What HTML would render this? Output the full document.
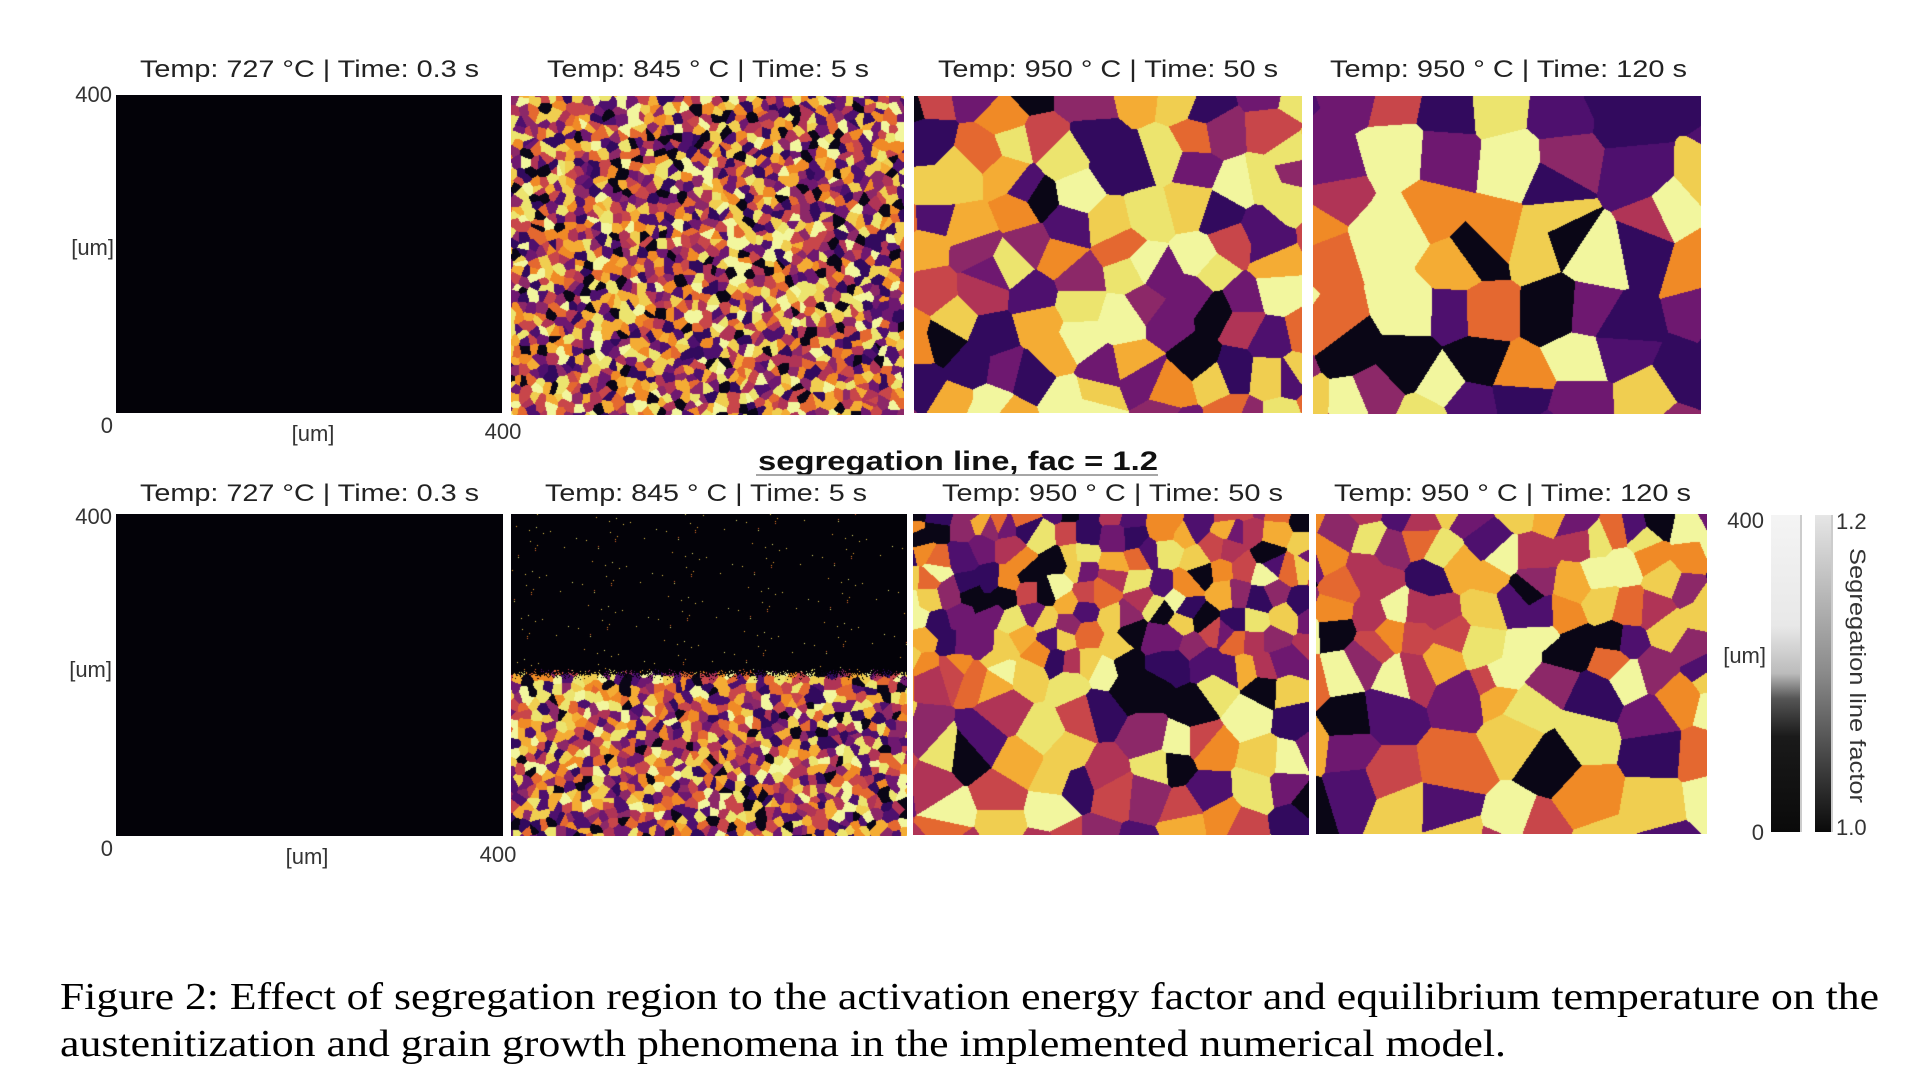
<!DOCTYPE html>
<html><head><meta charset="utf-8"><style>
html,body{margin:0;padding:0;background:#fff;width:1907px;height:1080px;overflow:hidden}
#wrap{position:relative;width:1907px;height:1080px}
canvas{position:absolute;display:block}
svg{position:absolute;left:0;top:0}
</style></head><body><div id="wrap">
<canvas id="c1" style="left:116px;top:95px" width="386" height="318"></canvas>
<canvas id="c2" style="left:511px;top:96px" width="393" height="319"></canvas>
<canvas id="c3" style="left:914px;top:96px" width="388" height="317"></canvas>
<canvas id="c4" style="left:1313px;top:96px" width="388" height="318"></canvas>
<canvas id="d1" style="left:116px;top:514px" width="387" height="322"></canvas>
<canvas id="d2" style="left:511px;top:514px" width="396" height="322"></canvas>
<canvas id="d3" style="left:913px;top:514px" width="396" height="321"></canvas>
<canvas id="d4" style="left:1316px;top:514px" width="391" height="320"></canvas>
<svg width="1907" height="1080" viewBox="0 0 1907 1080">
<defs>
<linearGradient id="g1" x1="0" y1="0" x2="0" y2="1">
<stop offset="0" stop-color="#f4f4f4"/><stop offset="0.35" stop-color="#e8e8e8"/><stop offset="0.5" stop-color="#bbbbbb"/><stop offset="0.58" stop-color="#555"/><stop offset="0.7" stop-color="#1a1a1a"/><stop offset="1" stop-color="#0a0a0a"/></linearGradient>
<linearGradient id="g2" x1="0" y1="0" x2="0" y2="1">
<stop offset="0" stop-color="#e6e6e6"/><stop offset="0.5" stop-color="#8a8a8a"/><stop offset="1" stop-color="#0a0a0a"/></linearGradient>
</defs>
<g font-family="Liberation Sans, sans-serif" font-size="24" fill="#222">
<text x="140" y="77" textLength="339" lengthAdjust="spacingAndGlyphs">Temp: 727 °C | Time: 0.3 s</text>
<text x="547" y="77" textLength="322" lengthAdjust="spacingAndGlyphs">Temp: 845 ° C | Time: 5 s</text>
<text x="938" y="77" textLength="340" lengthAdjust="spacingAndGlyphs">Temp: 950 ° C | Time: 50 s</text>
<text x="1330" y="77" textLength="357" lengthAdjust="spacingAndGlyphs">Temp: 950 ° C | Time: 120 s</text>
<text x="140" y="501" textLength="339" lengthAdjust="spacingAndGlyphs">Temp: 727 °C | Time: 0.3 s</text>
<text x="545" y="501" textLength="322" lengthAdjust="spacingAndGlyphs">Temp: 845 ° C | Time: 5 s</text>
<text x="942" y="501" textLength="341" lengthAdjust="spacingAndGlyphs">Temp: 950 ° C | Time: 50 s</text>
<text x="1334" y="501" textLength="357" lengthAdjust="spacingAndGlyphs">Temp: 950 ° C | Time: 120 s</text>
<g font-size="22" fill="#333">
<text x="112" y="102" text-anchor="end">400</text>
<text x="114" y="255" text-anchor="end">[um]</text>
<text x="113" y="433" text-anchor="end">0</text>
<text x="313" y="441" text-anchor="middle">[um]</text>
<text x="503" y="439" text-anchor="middle">400</text>
<text x="112" y="524" text-anchor="end">400</text>
<text x="112" y="677" text-anchor="end">[um]</text>
<text x="113" y="856" text-anchor="end">0</text>
<text x="307" y="864" text-anchor="middle">[um]</text>
<text x="498" y="862" text-anchor="middle">400</text>
<text x="1764" y="528" text-anchor="end">400</text>
<text x="1766" y="663" text-anchor="end">[um]</text>
<text x="1764" y="840" text-anchor="end">0</text>
<text x="1836" y="529">1.2</text>
<text x="1836" y="835">1.0</text>
<text transform="translate(1850,548) rotate(90)" textLength="255" lengthAdjust="spacingAndGlyphs">Segregation line factor</text>
</g>
<text x="758" y="470" font-weight="bold" font-size="27" fill="#111" textLength="400" lengthAdjust="spacingAndGlyphs">segregation line, fac = 1.2</text>
<line x1="756" y1="475" x2="1158" y2="475" stroke="#888" stroke-width="1.5"/>
</g>
<rect x="1771" y="515" width="29" height="317" fill="url(#g1)"/>
<rect x="1815" y="515" width="16" height="317" fill="url(#g2)"/>
<line x1="1801" y1="515" x2="1801" y2="832" stroke="#999"/>
<line x1="1832" y1="515" x2="1832" y2="832" stroke="#999"/>
<g font-family="Liberation Serif, serif" font-size="38" fill="#000">
<text x="60" y="1009" textLength="1819" lengthAdjust="spacingAndGlyphs">Figure 2: Effect of segregation region to the activation energy factor and equilibrium temperature on the</text>
<text x="60" y="1056" textLength="1446" lengthAdjust="spacingAndGlyphs">austenitization and grain growth phenomena in the implemented numerical model.</text>
</g>
</svg>
</div>
<script>
var pal=[[10,6,22],[50,10,94],[78,16,110],[110,24,112],[140,40,104],[176,52,86],[200,70,74],[228,104,48],[240,138,38],[244,172,52],[240,206,80],[236,228,110],[242,246,158]];
var seed=12345;function rnd(){seed=(seed*1103515245+12345)&0x7fffffff;return seed/0x7fffffff;}
function vor(id,sizeFn,blackFn){
 var c=document.getElementById(id),ctx=c.getContext('2d'),W=c.width,H=c.height;
 var img=ctx.createImageData(W,H),d=img.data;
 var pts=[];var y=-10;
 while(y<H+40){var s=sizeFn(Math.max(0,y));for(var x=-s;x<W+s;x+=s){pts.push([x+rnd()*s,y+rnd()*s,Math.floor(rnd()*pal.length)]);}y+=s;}
 var B=16,gw=Math.ceil((W+200)/B),gh=Math.ceil((H+200)/B),grid=[];
 for(var i=0;i<gw*gh;i++)grid.push([]);
 pts.forEach(function(p){var gx=Math.floor((p[0]+100)/B),gy=Math.floor((p[1]+100)/B);if(gx>=0&&gx<gw&&gy>=0&&gy<gh)grid[gy*gw+gx].push(p);});
 for(var py=0;py<H;py++){var r=Math.ceil(sizeFn(py)*1.5/B)+1;for(var px=0;px<W;px++){
  var k=(py*W+px)*4;
  if(blackFn&&blackFn(px,py)){var sp=rnd()<0.004;var cc=sp?pal[7+Math.floor(rnd()*5)]:[3,2,8];d[k]=cc[0];d[k+1]=cc[1];d[k+2]=cc[2];d[k+3]=255;continue;}
  var gx=Math.floor((px+100)/B),gy=Math.floor((py+100)/B),best=1e9,bc=0;
  for(var yy=gy-r;yy<=gy+r;yy++){if(yy<0||yy>=gh)continue;for(var xx=gx-r;xx<=gx+r;xx++){if(xx<0||xx>=gw)continue;var L=grid[yy*gw+xx];for(var j=0;j<L.length;j++){var p=L[j],dx=p[0]-px,dy=p[1]-py,dd=dx*dx+dy*dy;if(dd<best){best=dd;bc=p[2];}}}}
  var cc=pal[bc];d[k]=cc[0];d[k+1]=cc[1];d[k+2]=cc[2];d[k+3]=255;}}
 ctx.putImageData(img,0,0);
}
function blk(id){var c=document.getElementById(id),x=c.getContext('2d');x.fillStyle='#030208';x.fillRect(0,0,c.width,c.height);}
blk('c1');blk('d1');
vor('c2',function(){return 9;});
vor('c3',function(){return 36;});
vor('c4',function(){return 50;});
vor('d2',function(){return 9;},function(x,y){return y<160+(rnd()*12-6)*(rnd()<0.5?1:0.3);});
vor('d3',function(y){return y<140?21:36;});
vor('d4',function(y){return y<150?30:50;});
</script>
</body></html>
